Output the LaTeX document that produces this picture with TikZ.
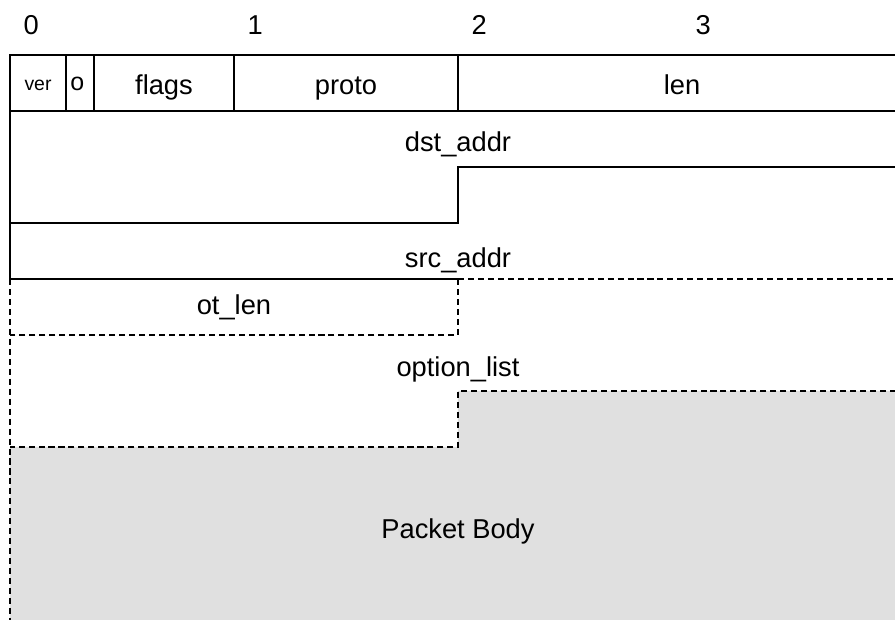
\documentclass[tikz,border=0pt]{standalone}
\usepackage{fontspec}
\setsansfont{Liberation Sans}
\usepackage{tikz}
\usetikzlibrary{positioning}
\definecolor{pkGray}{RGB}{224,224,224}
\tikzset{
    base/.style={font=\sffamily\fontsize{10.4}{12}\selectfont, inner sep=0pt},
    field/.style={base, anchor=base},
    small/.style={field, font=\sffamily\fontsize{7.4}{9}\selectfont},
    solidline/.style={line width=0.55pt, color=black},
    optline/.style={line width=0.55pt, color=black, dash pattern=on 2.3pt off 1.5pt}
}

\begin{document}
\begin{tikzpicture}[x=3cm, y=-0.75cm]
  \useasboundingbox (-0.0446,-0.982) rectangle (3.951,10.089);

  % Packet body (grey area)
  \fill[pkGray] (2,6) -- (4,6) -- (4,10.2) -- (0,10.2) -- (0,7) -- (2,7) -- cycle;

  % Byte offsets
  \foreach \b in {0,1,2,3}
    \node[field] (off\b) at (\b+0.095,-0.36) {\b};

  % Fixed header
  \draw[solidline] (4,0) -- (0,0) -- (0,4);
  \draw[solidline] (0,1) -- (4,1);
  \foreach \x in {0.25,0.375,1,2}
    \draw[solidline] (\x,0) -- (\x,1);
  \draw[solidline] (4,2) -- (2,2) -- (2,3) -- (0,3);
  \draw[solidline] (0,4) -- (2,4);

  % Optional part
  \draw[optline] (2,4) -- (4,4);
  \draw[optline] (2,4) -- (2,5) -- (0,5);
  \draw[optline] (4,6) -- (2,6) -- (2,7) -- (0,7);
  \draw[optline] (0,4) -- (0,10.2);

  % Field labels
  \node[small] (ver) at (0.125,0.64) {ver};
  \node[field, font=\sffamily\fontsize{9.5}{11}\selectfont] (opt) at (0.30,0.64) {o};
  \node[field] (flags) at (0.6875,0.71) {flags};
  \node[field] (proto) at (1.5,0.71) {proto};
  \node[field] (len) at (3,0.71) {len};
  \node[field] (dst) at (2,1.73) {dst\_addr};
  \node[field] (src) at (2,3.79) {src\_addr};
  \node[field] (otlen) at (1,4.64) {ot\_len};
  \node[field] (optlist) at (2,5.75) {option\_list};
  \node[field] (body) at (2,8.63) {Packet Body};
\end{tikzpicture}
\end{document}
